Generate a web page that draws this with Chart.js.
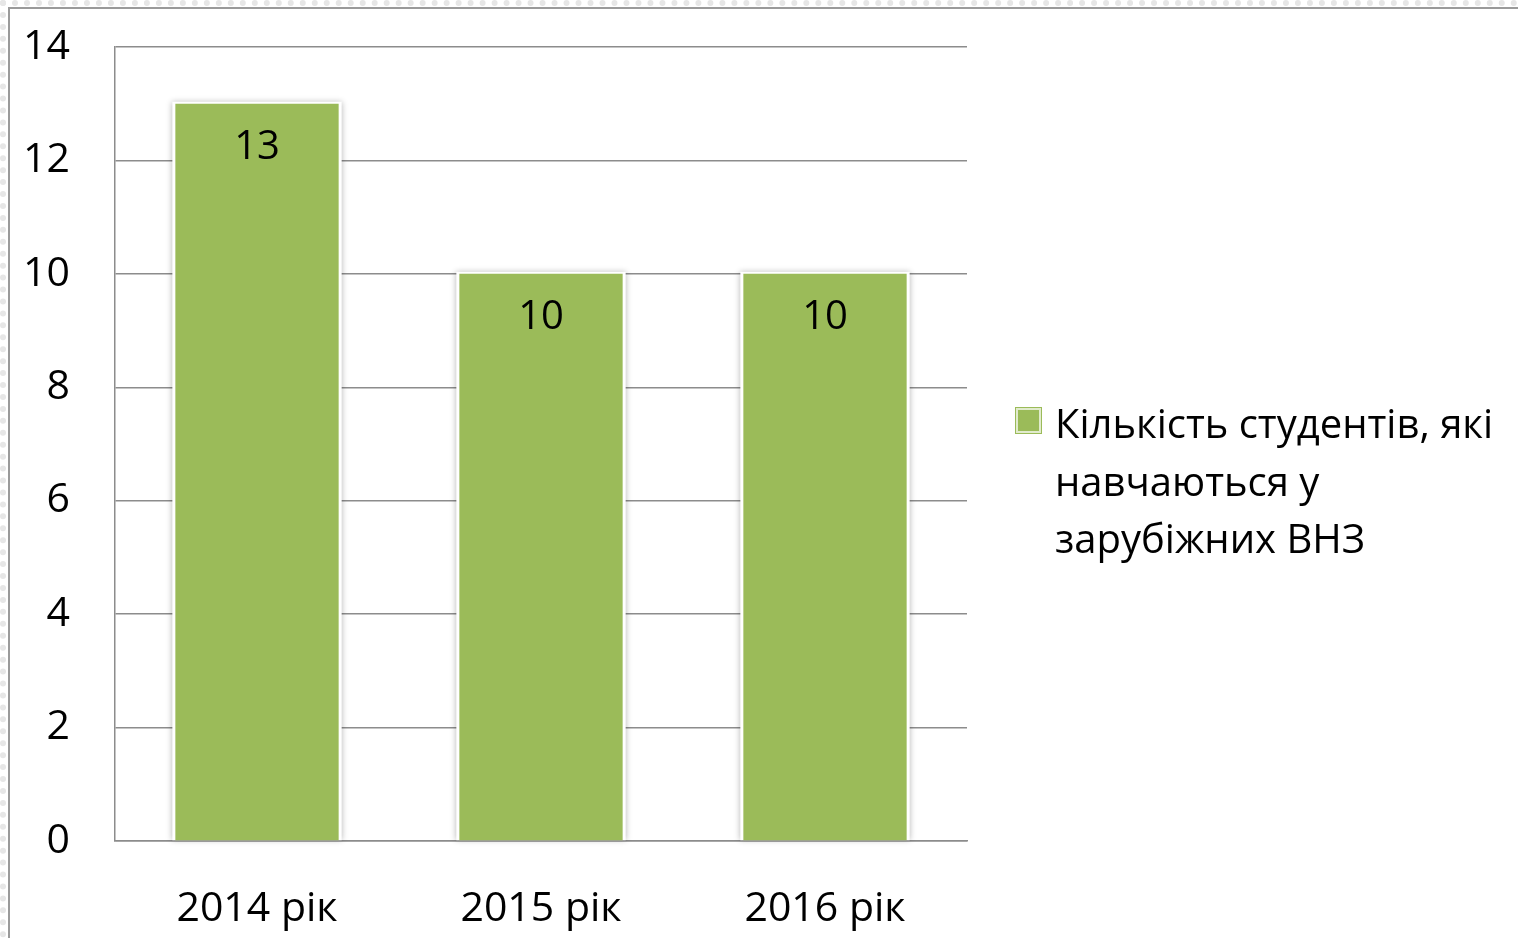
<!DOCTYPE html>
<html>
<head>
<meta charset="utf-8">
<script src="https://cdn.jsdelivr.net/npm/chart.js@4.4.1/dist/chart.umd.min.js"></script>
<style>
  html, body { margin: 0; padding: 0; background: #fff; overflow: hidden; }
  #wrap { position: relative; width: 1518px; height: 938px; }
  #dots { position: absolute; left: 0; top: 0; right: 0; bottom: 0;
          border-left: 6px dotted #e6e6e6; border-top: 6px dotted #e6e6e6; box-sizing: border-box; }
  #frame { position: absolute; left: 8px; top: 7px; width: 1530px; height: 950px;
           border-left: 2px solid #9a9a9a; border-top: 2px solid #9a9a9a; background: #fff; }
  canvas { position: absolute; left: 0; top: 0; }
</style>
</head>
<body>
<div id="wrap">
  <div id="dots"></div>
  <div id="frame"></div>
  <canvas id="chart" width="1518" height="938"></canvas>
</div>
<script>
/* ── data ─────────────────────────────────────────── */
const years = ['2014 рік', '2015 рік', '2016 рік'];
const students = [13, 10, 10];
const legendLines = ['Кількість студентів, які', 'навчаються у', 'зарубіжних ВНЗ'];

const GREEN = '#9bbb59';
const GRID = '#8c8c8c';
const FONT = '"Open Sans", Lato, sans-serif';
const SIZE = 41;

/* bar halo: white glow behind bars so gridlines stop short */
const barHalo = {
  id: 'barHalo',
  beforeDatasetsDraw(chart) {
    const ctx = chart.ctx;
    const meta = chart.getDatasetMeta(0);
    ctx.save();
    ctx.shadowColor = 'rgba(0,0,0,0.28)';
    ctx.shadowBlur = 6;
    ctx.fillStyle = '#fff';
    meta.data.forEach(bar => {
      const { x, y, base, width } = bar.getProps(['x', 'y', 'base', 'width'], true);
      ctx.fillRect(x - width / 2 - 3, y - 2, width + 6, base - y + 2);
    });
    ctx.restore();
  },
  afterDatasetsDraw(chart) {
    const ctx = chart.ctx;
    const meta = chart.getDatasetMeta(0);
    ctx.save();
    ctx.font = `${SIZE - 1}px ${FONT}`;
    ctx.fillStyle = '#000';
    ctx.textAlign = 'center';
    ctx.textBaseline = 'middle';
    meta.data.forEach((bar, i) => {
      ctx.fillText(students[i], bar.x, bar.y + 44);
    });
    ctx.restore();
  },
};

/* legend on the right, wrapped over three lines */
const sideLegend = {
  id: 'sideLegend',
  afterDraw(chart) {
    const ctx = chart.ctx;
    ctx.save();
    ctx.fillStyle = GREEN;
    ctx.fillRect(1015, 407, 27, 27);
    ctx.strokeStyle = 'rgba(255,255,255,0.7)';
    ctx.lineWidth = 2;
    ctx.strokeRect(1017, 409, 23, 23);
    ctx.font = `${SIZE - 1}px ${FONT}`;
    ctx.fillStyle = '#000';
    ctx.textAlign = 'left';
    ctx.textBaseline = 'alphabetic';
    legendLines.forEach((line, i) => {
      ctx.fillText(line, 1055, 438 + i * 57.5);
    });
    ctx.restore();
  },
};

new Chart(document.getElementById('chart'), {
  type: 'bar',
  data: {
    labels: years,
    datasets: [{
      label: legendLines.join(' '),
      data: students,
      backgroundColor: GREEN,
      borderWidth: 0,
      categoryPercentage: 1,
      barPercentage: 0.575,
    }],
  },
  options: {
    responsive: false,
    animation: false,
    layout: { padding: { left: 0, top: 47, right: 551, bottom: 0 } },
    plugins: {
      legend: { display: false },
      tooltip: { enabled: false },
    },
    scales: {
      x: {
        grid: { display: false },
        border: { display: true, color: GRID, width: 1.5 },
        ticks: { color: '#000', font: { family: FONT, size: SIZE }, padding: 36 },
        afterFit: s => { s.height = 97; s.paddingLeft = 0; s.paddingRight = 0; },
      },
      y: {
        min: 0,
        max: 14,
        grid: { color: GRID, lineWidth: 1.5, drawTicks: false },
        border: { display: true, color: GRID, width: 1.5 },
        ticks: { stepSize: 2, color: '#000', font: { family: FONT, size: SIZE }, padding: 45 },
        afterFit: s => { s.width = 115; s.paddingTop = 0; s.paddingBottom = 0; },
      },
    },
  },
  plugins: [barHalo, sideLegend],
});
</script>
</body>
</html>
